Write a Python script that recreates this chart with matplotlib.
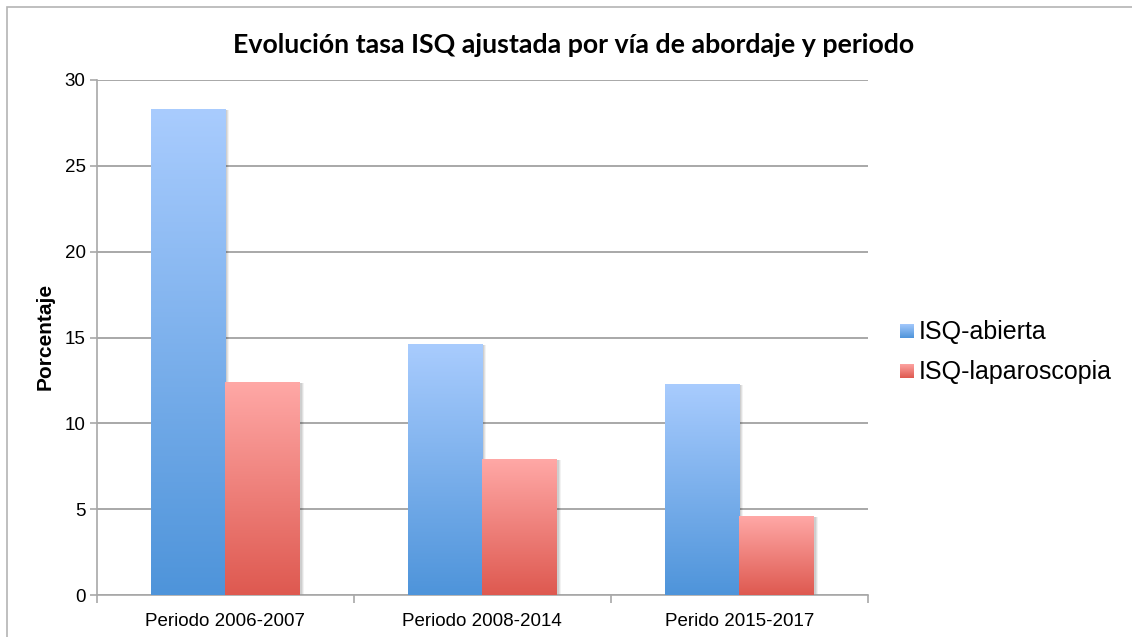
import numpy as np
import matplotlib
matplotlib.use("Agg")
import matplotlib.pyplot as plt
from matplotlib.colors import LinearSegmentedColormap
from matplotlib.patches import Rectangle
import matplotlib.transforms as mtransforms

# Data
categories = ["Periodo 2006-2007", "Periodo 2008-2014", "Perido 2015-2017"]
series_names = ["ISQ-abierta", "ISQ-laparoscopia"]
abierta = [28.3, 14.6, 12.3]
laparoscopia = [12.4, 7.9, 4.6]
y_ticks = [0, 5, 10, 15, 20, 25, 30]
title = "Evolución tasa ISQ ajustada por vía de abordaje y periodo"
y_label = "Porcentaje"

# Gradient colours (top, bottom) for each series
gradients = [("#A9CCFE", "#4E94DA"), ("#FFA8A6", "#DE5950")]

W, H = 1132, 637
fig = plt.figure(figsize=(W / 100, H / 100), dpi=100)
fig.patch.set_facecolor("white")

# Outer chart border
fig.add_artist(Rectangle((7 / W, -0.05), 1.2, 1 - 7 / H + 0.05,
                         transform=fig.transFigure, fill=False,
                         edgecolor="#B4B4B4", linewidth=1.2))

ax = fig.add_axes([96.7 / W, 1 - 595 / H, (868 - 96.7) / W, (595 - 80) / H])
ax.set_xlim(-0.5, 2.5)
ax.set_ylim(0, 30)

grid_c = "#A8A8A8"
ax.set_yticks(y_ticks)
ax.yaxis.grid(True, color=grid_c, linewidth=1.4)
ax.set_axisbelow(True)
for s in ["top", "right"]:
    ax.spines[s].set_visible(False)
for s in ["left", "bottom"]:
    ax.spines[s].set_color(grid_c)
    ax.spines[s].set_linewidth(1.2)

ax.set_xticks([-0.5, 0.5, 1.5, 2.5])
ax.set_xticklabels([])
ax.set_xticks([0, 1, 2], minor=True)
ax.set_xticklabels(categories, minor=True, fontsize=13.5,
                   fontfamily="Liberation Sans")
ax.tick_params(axis="x", which="major", length=6, width=1.2, color=grid_c,
               direction="out")
ax.tick_params(axis="x", which="minor", length=0, pad=13)
ax.tick_params(axis="y", length=5, width=1.2, color=grid_c, pad=3,
               labelsize=13.5)
for lbl in ax.get_yticklabels():
    lbl.set_fontfamily("Liberation Sans")

bar_w = 0.29
x = np.arange(len(categories))
grad = np.linspace(0, 1, 256).reshape(-1, 1)

for i, (vals, (ctop, cbot)) in enumerate(zip([abierta, laparoscopia], gradients)):
    cmap = LinearSegmentedColormap.from_list(f"g{i}", [cbot, ctop])
    offs = (i - 0.5) * bar_w
    for xi, v in zip(x, vals):
        x0 = xi + offs - bar_w / 2
        # soft shadow
        for k, a in [(4, 0.05), (3, 0.07), (2, 0.08)]:
            sh_tr = mtransforms.offset_copy(ax.transData, fig=fig, x=k * 0.72,
                                            y=-0.5, units="points")
            ax.add_patch(Rectangle((x0, 0), bar_w, v, transform=sh_tr,
                                   facecolor="black", alpha=a, edgecolor="none",
                                   zorder=2))
        bar = Rectangle((x0, 0), bar_w, v, facecolor="none", edgecolor="none",
                        zorder=3)
        ax.add_patch(bar)
        im = ax.imshow(grad, cmap=cmap, origin="lower", aspect="auto",
                       extent=[x0, x0 + bar_w, 0, v], zorder=3,
                       interpolation="bilinear")
        im.set_clip_path(bar)

ax.set_xlim(-0.5, 2.5)
ax.set_ylim(0, 30)

# Title and axis label
fig.text(574 / W, 1 - 45 / H, title, ha="center", va="center",
         fontsize=19.3, fontweight="bold", fontfamily="Lato")
fig.text(45 / W, 1 - 336 / H, y_label, rotation=90, ha="center", va="center",
         fontsize=15, fontweight="bold", fontfamily="Liberation Sans")

# Legend with gradient swatches
legend_y = [331, 371]
for name, (ctop, cbot), yc in zip(series_names, gradients, legend_y):
    sw = fig.add_axes([900 / W, 1 - (yc + 7.5) / H, 14 / W, 15 / H])
    cmap = LinearSegmentedColormap.from_list("lg", [cbot, ctop])
    sw.imshow(grad, cmap=cmap, origin="lower", aspect="auto",
              interpolation="bilinear")
    sw.axis("off")
    fig.text(919 / W, 1 - (yc + 1) / H, name, ha="left", va="center",
             fontsize=18, fontfamily="Liberation Sans")

fig.savefig("out.png", dpi=100)
